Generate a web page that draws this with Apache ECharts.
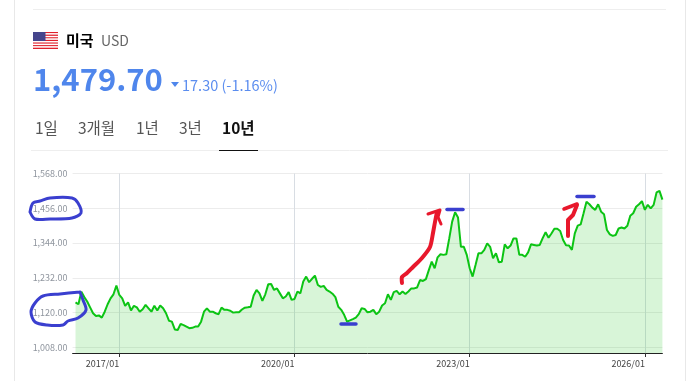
<!DOCTYPE html>
<html>
<head>
<meta charset="utf-8">
<style>
  html, body { margin: 0; padding: 0; background: #fff; }
  #chart { width: 696px; height: 381px; }
</style>
<script src="https://cdn.jsdelivr.net/npm/echarts@6/dist/echarts.min.js"></script>
</head>
<body>
<div id="chart"></div>
<script>
let font = "'Noto Sans CJK KR', 'Noto Sans', sans-serif";

let yTicks = [1008, 1120, 1232, 1344, 1456, 1568];
let tickDates = ["2017/01/01", "2020/01/01", "2023/01/01", "2026/01/01"];
let tabs = ["1일", "3개월", "1년", "3년", "10년"];
let tabX = [35, 78, 136, 179, 222];

// about 20 points per year, first slot stays empty
let rates = [null,
    1153, 1147, 1187, 1170, 1156, 1137, 1118, 1109, 1111, 1104,
    1123, 1147, 1166, 1179, 1207, 1177, 1166, 1142, 1153, 1127,
    1142, 1137, 1123, 1131, 1145, 1134, 1123, 1142, 1127, 1143,
    1134, 1118, 1094, 1091, 1066, 1064, 1084, 1080, 1075, 1070,
    1071, 1075, 1075, 1091, 1123, 1134, 1123, 1123, 1118, 1115,
    1136, 1129, 1129, 1126, 1120, 1121, 1121, 1130, 1136, 1137,
    1139, 1175, 1193, 1182, 1158, 1179, 1211, 1212, 1193, 1198,
    1182, 1166, 1172, 1186, 1161, 1164, 1188, 1182, 1220, 1236,
    1218, 1229, 1239, 1209, 1203, 1206, 1193, 1188, 1181, 1170,
    1139, 1129, 1113, 1091, 1095, 1099, 1104, 1115, 1134, 1132,
    1121, 1123, 1129, 1115, 1123, 1143, 1150, 1179, 1161, 1186,
    1190, 1179, 1188, 1180, 1188, 1198, 1198, 1201, 1225, 1222,
    1228, 1257, 1284, 1263, 1298, 1308, 1306, 1308, 1359, 1413,
    1443, 1426, 1332, 1332, 1306, 1263, 1236, 1273, 1311, 1311,
    1322, 1343, 1332, 1295, 1311, 1282, 1284, 1340, 1327, 1336,
    1359, 1359, 1306, 1306, 1300, 1314, 1340, 1338, 1336, 1338,
    1360, 1379, 1361, 1375, 1390, 1390, 1383, 1354, 1337, 1336,
    1322, 1375, 1400, 1404, 1440, 1477, 1469, 1458, 1451, 1469,
    1445, 1437, 1386, 1372, 1367, 1370, 1391, 1394, 1391, 1400,
    1432, 1440, 1461, 1469, 1479, 1451, 1467, 1456, 1467, 1507,
    1512, 1484];

// category per slot, 2017/01/01 has to land on slot 16
let dates = [];
for (let i = 0; i < rates.length; i++)
{
    let year = 2016 + Math.floor((i + 4) / 20);
    let k = (i + 4) % 20;
    let d = new Date(Date.UTC(year, 0, 1 + k * 18));
    let mm = String(d.getUTCMonth() + 1).padStart(2, "0");
    let dd = String(d.getUTCDate()).padStart(2, "0");
    dates.push(year + "/" + mm + "/" + dd);
}

function isTick(index, value)
{
    return tickDates.includes(value);
}

function line(x1, y1, x2, y2, color, width)
{
    return {
        type: "line", silent: true,
        shape: {x1: x1, y1: y1, x2: x2, y2: y2},
        style: {stroke: color, lineWidth: width}
    };
}

function label(x, y, text, size, color, weight)
{
    return {
        type: "text", silent: true, x: x, y: y,
        style: {text: text, fontFamily: font, fontSize: size, fontWeight: weight || "normal",
                 fill: color, textVerticalAlign: "middle"}
    };
}

function scribble(points, color, width, smooth)
{
    return {
        type: "polyline", silent: true, z: 20,
        shape: {points: points, smooth: smooth || 0},
        style: {stroke: color, lineWidth: width, fill: null, lineCap: "round", lineJoin: "round"}
    };
}

// page frame and header
let graphics = [
    line(14.5, 0, 14.5, 381, "#e8e8e8", 1),
    line(685.5, 0, 685.5, 381, "#e8e8e8", 1),
    line(33, 9.5, 666, 9.5, "#eeeeee", 1),
    line(31, 150.5, 668, 150.5, "#eeeeee", 1),
    line(219, 150.5, 258, 150.5, "#111111", 1),
    label(66, 40, "미국", 15, "#000000", "bold"),
    label(101, 41, "USD", 14, "#666666"),
    label(33, 79, "1,479.70", 31, "#4f86ec", "bold"),
    {
        type: "polygon", silent: true,
        shape: {points: [[171, 82], [179, 82], [175, 87]]},
        style: {fill: "#4f86ec"}
    },
    label(182, 85, "17.30 (-1.16%)", 14.5, "#5b8def")
];

tabs.forEach((name, i) => {
    let active = name === "10년";
    graphics.push(label(tabX[i], 128, name, 15.5, active ? "#111111" : "#555555", active ? "bold" : "normal"));
});

// flag
for (let s = 0; s < 13; s++)
{
    graphics.push({
        type: "rect", silent: true,
        shape: {x: 33, y: 32 + s * 17 / 13, width: 25, height: 17 / 13},
        style: {fill: s % 2 === 0 ? "#e0202c" : "#ffffff"}
    });
}
graphics.push({
    type: "rect", silent: true,
    shape: {x: 33, y: 32, width: 12.5, height: 9},
    style: {fill: "#45458c"}
});

// hand drawn marks on top of the chart
let blue = "#3a3fcf";
let red = "#e8182c";
graphics.push(
    scribble([[30, 212], [33, 203], [40, 201], [50, 198], [72, 198], [78, 203], [81, 213], [72, 218], [50, 219], [35, 219], [30, 212]], blue, 3, 0.3),
    scribble([[80, 292], [60, 294], [43, 296], [35, 303], [31, 312], [35, 322], [47, 325], [63, 325], [68, 321], [78, 318], [86, 310], [83, 300], [80, 292]], blue, 3, 0.3),
    scribble([[341, 324], [356, 324]], blue, 3.5),
    scribble([[447, 209.5], [463, 209.5]], blue, 3.5),
    scribble([[577, 196.5], [594, 196.5]], blue, 3.5),
    scribble([[402, 283], [402, 277], [407, 273], [413, 267], [422, 258], [430, 247], [433, 233], [435, 222], [437, 212]], red, 4, 0.25),
    scribble([[428, 214], [440, 210], [438, 217], [441, 224]], red, 3),
    scribble([[568, 236], [568, 220], [573, 215], [577, 205]], red, 4),
    scribble([[564, 209], [577, 204]], red, 3.5)
);

let myChart = echarts.init(document.getElementById("chart"));

let option = {
    animation: false,
    backgroundColor: "#ffffff",
    textStyle: {fontFamily: font},
    grid: {left: 72.6, top: 173.5, width: 589.8, height: 179.5, containLabel: false},
    xAxis: {
        type: "category",
        data: dates,
        boundaryGap: false,
        axisLine: {lineStyle: {color: "#222222", width: 1}},
        axisTick: {show: true, length: 4, interval: isTick, lineStyle: {color: "#333333"}},
        axisLabel: {
            interval: isTick,
            align: "right",
            margin: 6,
            color: "#444444",
            fontSize: 9,
            hideOverlap: false,
            formatter: function(value) { return value.slice(0, 7); }
        },
        splitLine: {show: true, interval: isTick, lineStyle: {color: "#d8dde3", width: 1}}
    },
    yAxis: {
        type: "value",
        min: 990,
        max: 1568,
        axisLine: {show: false},
        axisTick: {show: false, customValues: yTicks},
        axisLabel: {
            customValues: yTicks,
            color: "#8f959e",
            fontSize: 9,
            margin: 5,
            formatter: function(value) {
                return value.toLocaleString("en-US", {minimumFractionDigits: 2, maximumFractionDigits: 2});
            }
        },
        splitLine: {show: true, lineStyle: {color: "#ececec", width: 1}}
    },
    series: [{
        type: "line",
        data: rates,
        showSymbol: false,
        symbol: "none",
        silent: true,
        lineStyle: {color: "#0cc414", width: 2},
        areaStyle: {color: "rgba(40, 200, 40, 0.18)", opacity: 1}
    }],
    graphic: graphics
};

myChart.setOption(option);
</script>
</body>
</html>
